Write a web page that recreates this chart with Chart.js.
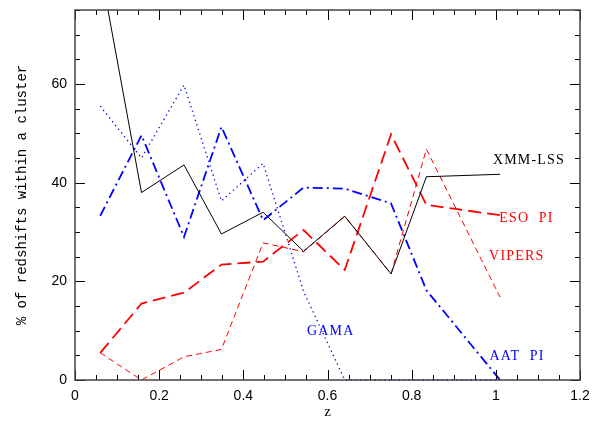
<!DOCTYPE html>
<html>
<head>
<meta charset="utf-8">
<script src="https://cdn.jsdelivr.net/npm/chart.js@4/dist/chart.umd.min.js"></script>
<style>
  html, body { margin: 0; padding: 0; background: #fff; }
  #wrap { width: 606px; height: 424px; }
</style>
</head>
<body>
<div id="wrap"><canvas id="c"></canvas></div>
<script>
// redshift bins (x) and percentages per survey
const zBins   = [0.06, 0.158, 0.259, 0.348, 0.447, 0.543, 0.641, 0.751, 0.835, 1.01];
const xmmLss  = [83.5, 38.0, 43.6, 29.6, 34.0, 26.1, 33.2, 21.5, 41.2, 41.7];
const esoPi   = [5.5, 15.5, 17.7, 23.4, 24.0, 30.4, 22.3, 49.8, 35.5, 33.4];
const vipers  = [5.5, 0, 4.7, 6.2, 27.8, 26.0, 33.2, 21.5, 46.8, 16.8];
const gama    = [55.5, 45.0, 59.8, 36.3, 43.9, 18.0, 0, 0, 0, 0];
const aatPi   = [33.3, 49.6, 29.0, 51.3, 32.4, 39.0, 38.8, 35.8, 18.2, 0];

const xTicks = [0, 0.2, 0.4, 0.6, 0.8, 1.0, 1.2];
const yTicks = [0, 20, 40, 60];

// curve labels, in data coordinates (left edge, vertical centre)
const curveLabels = [
  { text: 'XMM-LSS', x: 0.993, y: 44.6, color: '#000' },
  { text: 'ESO  PI', x: 1.008, y: 32.8, color: '#ff0000' },
  { text: 'VIPERS',  x: 0.984, y: 25.0, color: '#ff0000' },
  { text: 'AAT  PI', x: 0.985, y: 4.7,  color: '#0000ff' },
  { text: 'GAMA',    x: 0.551, y: 9.8,  color: '#0000ff' },
];

const pts = arr => arr.map((v, i) => ({ x: zBins[i], y: v }));
const clipBox = { left: 5, top: 0, right: 5, bottom: 4 };

// ── frame with inward ticks on all four sides ──
const framePlugin = {
  id: 'frame',
  afterDraw(chart) {
    const { ctx, chartArea: a, scales } = chart;
    const xs = scales.x, ys = scales.y;
    ctx.save();
    ctx.strokeStyle = '#000';
    ctx.lineWidth = 1;
    // x ticks every 0.05, major every 0.2
    for (let i = 0; i <= 24; i++) {
      const px = Math.round(xs.getPixelForValue(i * 0.05)) + 0.5;
      const len = i % 4 === 0 ? 10 : 5;
      ctx.beginPath();
      ctx.moveTo(px, a.bottom); ctx.lineTo(px, a.bottom - len);
      ctx.moveTo(px, a.top);    ctx.lineTo(px, a.top + len);
      ctx.stroke();
    }
    // y ticks every 5, major every 20
    for (let v = 0; v <= 75; v += 5) {
      const py = Math.round(ys.getPixelForValue(v)) + 0.5;
      const len = v % 20 === 0 ? 10 : 5;
      ctx.beginPath();
      ctx.moveTo(a.left, py);  ctx.lineTo(a.left + len, py);
      ctx.moveTo(a.right, py); ctx.lineTo(a.right - len, py);
      ctx.stroke();
    }
    ctx.strokeStyle = '#444';
    ctx.lineWidth = 1.5;
    ctx.strokeRect(a.left, a.top, a.right - a.left, a.bottom - a.top);
    ctx.restore();
  }
};

const labelPlugin = {
  id: 'curveLabels',
  afterDatasetsDraw(chart) {
    const { ctx, scales } = chart;
    ctx.save();
    ctx.font = '14px "Liberation Serif"';
    ctx.letterSpacing = '1.2px';
    ctx.textAlign = 'left';
    ctx.textBaseline = 'middle';
    curveLabels.forEach(l => {
      ctx.fillStyle = l.color;
      ctx.fillText(l.text, scales.x.getPixelForValue(l.x), scales.y.getPixelForValue(l.y));
    });
    ctx.restore();
  }
};

new Chart(document.getElementById('c'), {
  type: 'line',
  data: {
    datasets: [
      { label: 'XMM-LSS', data: pts(xmmLss), borderColor: '#000', borderWidth: 1, clip: clipBox },
      { label: 'ESO PI', data: pts(esoPi), borderColor: '#ff0000', borderWidth: 1.8, borderDash: [13, 6], clip: clipBox },
      { label: 'VIPERS', data: pts(vipers), borderColor: '#ff0000', borderWidth: 1, borderDash: [6, 4], clip: clipBox },
      { label: 'GAMA', data: pts(gama), borderColor: '#0000ff', borderWidth: 1.3, borderDash: [1.3, 3.5], clip: clipBox },
      { label: 'AAT PI', data: pts(aatPi), borderColor: '#0000ff', borderWidth: 1.8, borderDash: [10, 4, 2, 4], clip: clipBox },
    ]
  },
  options: {
    responsive: true,
    maintainAspectRatio: false,
    animation: false,
    layout: { padding: { top: 10, right: 26, left: 0, bottom: 0 } },
    elements: { point: { radius: 0 }, line: { tension: 0 } },
    plugins: { legend: { display: false }, tooltip: { enabled: false } },
    scales: {
      x: {
        type: 'linear', min: 0, max: 1.2,
        afterBuildTicks: s => { s.ticks = xTicks.map(v => ({ value: v })); },
        afterFit: s => { s.height = 44; s.paddingLeft = 0; s.paddingRight = 0; },
        grid: { display: false, drawTicks: false },
        border: { display: false },
        ticks: {
          padding: 8, color: '#000', maxRotation: 0,
          font: { family: '"Liberation Sans"', size: 14 },
          callback: v => String(Math.round(v * 10) / 10)
        },
        title: {
          display: true, text: 'z', color: '#000',
          font: { family: '"Liberation Serif"', size: 15 },
          padding: { top: 0, bottom: 3 }
        }
      },
      y: {
        type: 'linear', min: 0, max: 75,
        afterBuildTicks: s => { s.ticks = yTicks.map(v => ({ value: v })); },
        afterFit: s => { s.width = 75; s.paddingTop = 0; s.paddingBottom = 0; },
        grid: { display: false, drawTicks: false },
        border: { display: false },
        ticks: {
          padding: 8, color: '#000',
          font: { family: '"Liberation Sans"', size: 14 }
        },
        title: {
          display: true, text: '% of redshifts within a cluster', color: '#000',
          font: { family: '"Liberation Mono"', size: 14 },
          padding: { top: 14, bottom: 0 }
        }
      }
    }
  },
  plugins: [framePlugin, labelPlugin]
});
</script>
</body>
</html>
